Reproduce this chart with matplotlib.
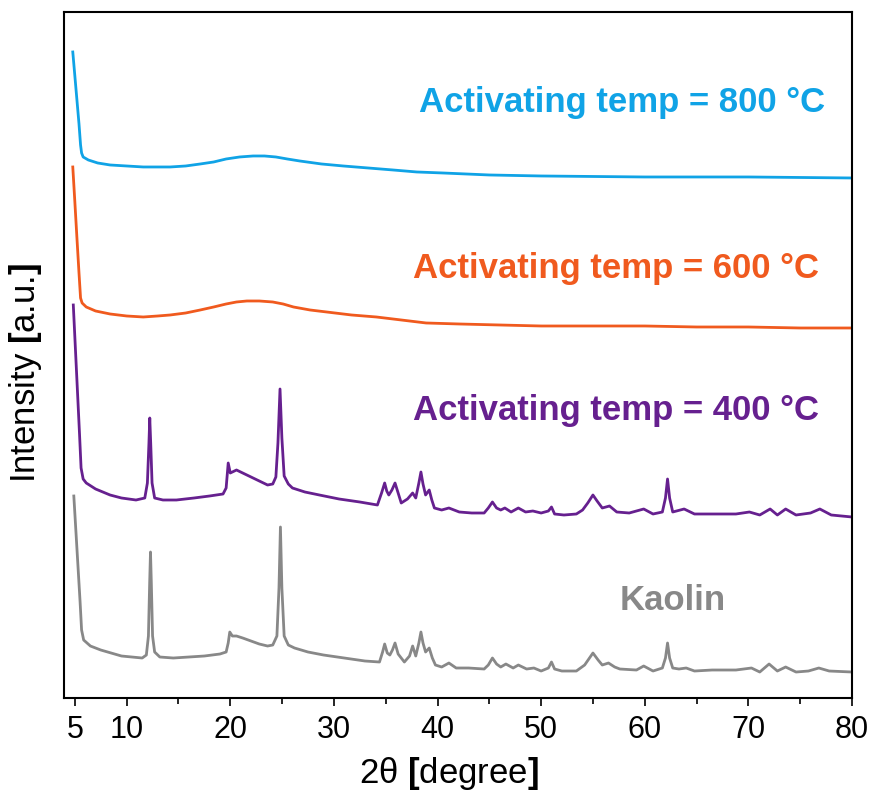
import numpy as np
import matplotlib.pyplot as plt

plt.rcParams['font.family'] = ['Liberation Sans', 'DejaVu Sans']
plt.rcParams['mathtext.fontset'] = 'custom'
plt.rcParams['mathtext.rm'] = 'Liberation Sans'
plt.rcParams['mathtext.bf'] = 'Liberation Sans:bold'

# Kaolin pattern (2theta, intensity, a.u.)
kaolin_x = [4.9, 5.1, 5.3, 5.5, 5.65, 5.85, 6.5, 7.5, 8.5, 9.5, 10.5, 11.5, 11.9, 12.1, 12.22, 12.3,
            12.38, 12.5, 12.7, 13.2, 14.5, 16, 17.5, 19.0, 19.6, 19.8, 19.95, 20.2, 20.6, 21.2, 22.0,
            22.8, 23.6, 24.1, 24.5, 24.7, 24.84, 24.98, 25.2, 25.6, 26.2, 27.5, 29, 31, 33, 34.4,
            34.7, 34.9, 35.15, 35.4, 35.65, 35.9, 36.2, 36.8, 37.3, 37.6, 37.9, 38.2, 38.4, 38.6,
            38.85, 39.2, 39.5, 39.8, 40.4, 41.1, 41.8, 43, 44.5, 44.9, 45.3, 45.7, 46.1, 46.6, 47.3,
            47.8, 48.6, 49.3, 50.0, 50.7, 51.0, 51.3, 52, 53.4, 54.2, 54.6, 55.0, 55.5, 55.9, 56.5,
            57.1, 57.6, 59.2, 59.9, 60.8, 61.7, 62.0, 62.2, 62.4, 62.7, 63.3, 64.0, 64.8, 66.5,
            68.8, 70.3, 71.1, 72.0, 72.8, 73.6, 74.6, 75.8, 76.8, 77.8, 80]
kaolin_y = [202, 167, 132, 97, 68, 58, 52, 48, 45, 42, 41, 40, 43, 62, 115, 146,
            115, 62, 46, 41, 40, 41, 42, 44, 46, 55, 66, 62, 62, 60, 57,
            54, 52, 53, 62, 110, 171, 110, 62, 53, 50, 46, 43, 40, 37, 36,
            46, 54, 45, 43, 48, 55, 44, 36, 42, 52, 42, 55, 66, 55,
            46, 50, 40, 33, 31, 35, 30, 30, 29, 33, 40, 34, 31, 34, 30,
            33, 29, 30, 27, 30, 36, 29, 27, 27, 33, 39, 45, 38, 33, 35,
            31, 29, 28, 32, 27, 30, 40, 55, 40, 30, 29, 30, 27, 28,
            28, 30, 26, 34, 27, 31, 26, 27, 30, 27, 26]

# Activated at 400 C
t400_x = [4.85, 5.05, 5.25, 5.45, 5.6, 5.8, 6.1, 7.0, 8.4, 9.5, 10.9, 11.75, 12.0, 12.15, 12.23,
          12.32, 12.45, 12.7, 13.5, 14.8, 16.5, 18, 19.3, 19.6, 19.8, 20.0, 20.6, 21.4, 22.2, 23.0,
          23.6, 24.1, 24.4, 24.6, 24.8, 24.98, 25.2, 25.6, 26.0, 27.2, 28.6, 30.5, 32.5, 34.2,
          34.6, 34.9, 35.1, 35.3, 35.6, 35.9, 36.2, 36.5, 37.1, 37.6, 37.9, 38.2, 38.4, 38.6,
          38.85, 39.2, 39.45, 39.7, 40.4, 41.1, 42.1, 43.3, 44.5, 44.9, 45.3, 45.7, 46.1, 46.5,
          47.1, 47.8, 48.5, 49.2, 50.0, 50.7, 51.0, 51.3, 52.2, 53.4, 54.0, 54.5, 55.0, 55.4,
          55.9, 56.6, 57.3, 58.5, 59.9, 60.8, 61.7, 62.0, 62.2, 62.4, 62.7, 63.8, 64.8, 66.5,
          68.8, 70.1, 71.1, 72.1, 72.8, 73.6, 74.6, 76.0, 76.9, 78.0, 80]
t400_y = [393, 350, 307, 264, 230, 219, 215, 209, 203, 200, 198, 200, 215, 255, 280,
          255, 215, 200, 198, 198, 200, 202, 204, 210, 235, 225, 228, 224, 220, 216,
          213, 214, 221, 255, 309, 260, 222, 214, 210, 206, 203, 199, 196, 193,
          205, 215, 207, 203, 208, 215, 205, 195, 199, 205, 200, 215, 226, 214,
          203, 208, 198, 190, 188, 190, 186, 185, 185, 190, 196, 190, 188, 190,
          186, 190, 186, 187, 185, 187, 191, 184, 183, 184, 188, 195, 203, 197,
          190, 192, 186, 185, 189, 184, 186, 200, 219, 200, 186, 189, 184, 184,
          184, 186, 183, 189, 183, 189, 183, 185, 189, 183, 181]

# Activated at 600 C
t600_x = [4.8, 5.0, 5.2, 5.4, 5.55, 5.7, 6.1, 7.0, 8.4, 10, 11.6, 13, 14.2, 15.7, 17.1, 18.4,
          19.6, 20.6, 21.6, 22.8, 24.1, 25.1, 26.1, 27.7, 29.3, 31.7, 34.1, 36.5, 38.9, 42.1,
          46, 50, 55, 60, 65, 70, 75, 80]
t600_y = [531, 496, 460, 425, 400, 395, 391, 387, 384, 382, 381, 382, 383, 385, 388, 391,
          394, 396, 397, 397, 396, 394, 391, 388, 386, 383, 381, 378, 375, 374,
          373, 372, 372, 372, 371, 371, 370, 370]

# Activated at 800 C
t800_x = [4.8, 5.0, 5.2, 5.4, 5.55, 5.65, 5.8, 6.3, 7.2, 8.4, 10, 11.6, 13, 14.2, 15.7, 17.1,
          18.4, 19.6, 20.9, 22.2, 23.3, 24.4, 25.5, 26.7, 28.8, 30.9, 33.3, 35.7, 38, 40.5,
          45, 50, 60, 70, 80]
t800_y = [646, 622, 598, 574, 553, 545, 541, 538, 535, 533, 532, 531, 531, 531, 532, 534,
          536, 539, 541, 542, 542, 541, 539, 537, 534, 532, 530, 528, 526, 525,
          523, 522, 521, 521, 520]

labels = ['Kaolin', 'Activating temp = 400 °C', 'Activating temp = 600 °C', 'Activating temp = 800 °C']
colors = ['#888888', '#66208f', '#f05a1e', '#10a3e6']

fig = plt.figure(figsize=(8.74, 7.98), dpi=100)
ax = fig.add_axes([0.0732, 0.1253, 0.9016, 0.8597])

series = [(kaolin_x, kaolin_y), (t400_x, t400_y), (t600_x, t600_y), (t800_x, t800_y)]
for (xs, ys), c in zip(series, colors):
    ax.plot(xs, ys, color=c, lw=2.0)

# curve labels
ax.text(67.8, 88, labels[0], color=colors[0], fontsize=25, fontweight='bold',
        ha='right', va='baseline')
ax.text(76.8, 278, labels[1], color=colors[1], fontsize=25, fontweight='bold',
        ha='right', va='baseline')
ax.text(76.8, 420, labels[2], color=colors[2], fontsize=25, fontweight='bold',
        ha='right', va='baseline')
ax.text(77.4, 586, labels[3], color=colors[3], fontsize=25, fontweight='bold',
        ha='right', va='baseline')

ax.set_xlim(3.95, 80)
ax.set_ylim(0, 686)
ax.set_xticks([5, 10, 20, 30, 40, 50, 60, 70, 80])
ax.set_xticks([15, 25, 35, 45, 55, 65, 75], minor=True)
ax.set_yticks([])
ax.tick_params(axis='x', which='major', direction='out', length=6, width=1.2, labelsize=22, pad=6)
ax.tick_params(axis='x', which='minor', direction='out', length=4, width=1.2)
for s in ax.spines.values():
    s.set_linewidth(1.5)

ax.set_xlabel(r'2θ $\mathbf{[}$degree$\mathbf{]}$', fontsize=25)
ax.set_ylabel(r'Intensity $\mathbf{[}$a.u.$\mathbf{]}$', fontsize=25)
ax.xaxis.set_label_coords(0.489, -0.083)
ax.yaxis.set_label_coords(-0.025, 0.474)

plt.savefig('out.png', dpi=100)
